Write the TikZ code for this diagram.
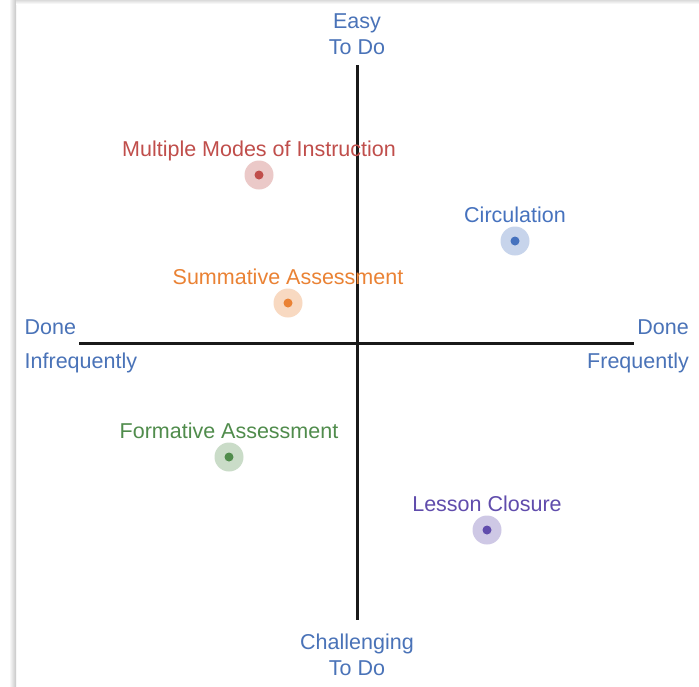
\documentclass[tikz,border=0pt]{standalone}
\usepackage{fontspec}
\setmainfont{Liberation Sans}
\usetikzlibrary{positioning}

\definecolor{axisblue}{RGB}{74,115,184}
\definecolor{ptred}{RGB}{192,78,75}
\definecolor{ptblue}{RGB}{70,114,190}
\definecolor{ptorange}{RGB}{234,130,52}
\definecolor{ptgreen}{RGB}{80,140,76}
\definecolor{ptpurple}{RGB}{96,76,172}

\begin{document}
\begin{tikzpicture}[
  x=1pt, y=-1pt,
  axis/.style={line width=3pt, black!90},
  axlbl/.style={inner sep=0pt, text=axisblue, font=\fontsize{21.5}{26}\selectfont, align=center},
  pt/.style={circle, inner sep=0pt, minimum size=29pt, fill=#1, fill opacity=0.3,
             path picture={\fill[#1, fill opacity=1] (path picture bounding box.center) circle (4.5pt);}},
  ptlbl/.style={inner sep=0pt, text=#1, font=\fontsize{21.5}{26}\selectfont, anchor=base}
]
% page and its shadow
\useasboundingbox (0,0) rectangle (699,686);
\fill[white] (0,0) rectangle (699,686);
\shade[left color=white, right color=black!22] (9,0) rectangle (16,686);
\shade[top color=black!14, bottom color=white] (16,0) rectangle (699,4);

% axes
\coordinate (top) at (357,65);
\coordinate (bot) at (357,620);
\coordinate (lft) at (79,343);
\coordinate (rgt) at (634,343);
\draw[axis] (top) -- (bot);
\draw[axis] (lft) -- (rgt);

\node[axlbl, above=10.5pt of top] (easy) {Easy\\To Do};
\node[axlbl, below=14pt of bot] (hard) {Challenging\\To Do};
\node[axlbl, anchor=base west] (infa) at (24.5,334) {Done};
\node[axlbl, anchor=base west] (infb) at (24.5,368.5) {Infrequently};
\node[axlbl, anchor=base east] (freqa) at (689,334) {Done};
\node[axlbl, anchor=base east] (freqb) at (689,368.5) {Frequently};

% practices
\node[pt=ptred] (modes) at (259,175) {};
\node[pt=ptblue] (circ) at (515,241) {};
\node[pt=ptorange] (summ) at (288,303) {};
\node[pt=ptgreen] (form) at (229,457) {};
\node[pt=ptpurple] (clos) at (487,530) {};

\node[ptlbl=ptred, above=18.5pt of modes.center, anchor=base] {Multiple Modes of Instruction};
\node[ptlbl=ptblue, above=18.5pt of circ.center, anchor=base] {Circulation};
\node[ptlbl=ptorange, above=18.5pt of summ.center, anchor=base] {Summative Assessment};
\node[ptlbl=ptgreen, above=18.5pt of form.center, anchor=base] {Formative Assessment};
\node[ptlbl=ptpurple, above=18.5pt of clos.center, anchor=base] {Lesson Closure};
\end{tikzpicture}
\end{document}
